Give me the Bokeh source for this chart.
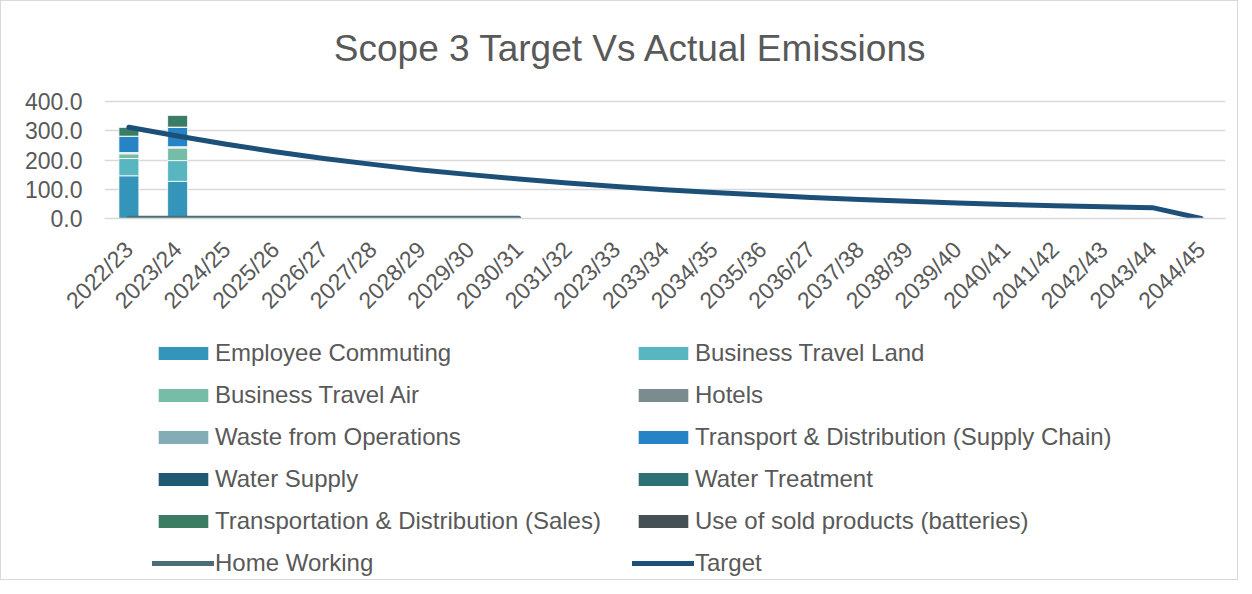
import math
from bokeh.plotting import figure
from bokeh.layouts import column
from bokeh.models import (FactorRange, Range1d, Legend, LegendItem, FixedTicker,
                          NumeralTickFormatter, ColumnDataSource, Label)
from bokeh.embed import file_html
from bokeh.resources import INLINE

# ---------------- data ----------------
categories = ["2022/23", "2023/24", "2024/25", "2025/26", "2026/27", "2027/28", "2028/29",
              "2029/30", "2030/31", "2031/32", "2023/33", "2033/34", "2034/35", "2035/36",
              "2036/27", "2037/38", "2038/39", "2039/40", "2040/41", "2041/42", "2042/43",
              "2043/44", "2044/45"]

actual_years = ["2022/23", "2023/24"]
employee_commuting = [146, 127]
business_travel_land = [59, 71]
business_travel_air = [16, 43]
hotels = [2, 2]
waste_from_operations = [2.5, 2.5]
td_supply_chain = [55, 66]
water_supply = [0.5, 0.5]
water_treatment = [0.5, 0.5]
td_sales = [31, 41]
use_of_sold_products = [0.3, 0.3]

home_working_years = ["2022/23", "2023/24", "2024/25", "2025/26", "2026/27", "2027/28",
                      "2028/29", "2029/30", "2030/31"]
home_working = [1, 1, 1, 1, 1, 1, 1, 1, 1]

target = [312, 282, 254, 228, 205, 185, 166, 150, 135, 121, 109, 98, 89, 80, 72, 65,
          59, 53, 48, 44, 40, 37, 0]

y_ticks = [0, 100, 200, 300, 400]

series_names = ["Employee Commuting", "Business Travel Land", "Business Travel Air", "Hotels",
                "Waste from Operations", "Transport & Distribution (Supply Chain)",
                "Water Supply", "Water Treatment", "Transportation & Distribution (Sales)",
                "Use of sold products (batteries)"]
series_values = [employee_commuting, business_travel_land, business_travel_air, hotels,
                 waste_from_operations, td_supply_chain, water_supply, water_treatment,
                 td_sales, use_of_sold_products]
series_colors = ["#3494BA", "#58B6C0", "#75BDA7", "#7A8C8E", "#84ACB6", "#2683C6",
                 "#1F5A72", "#2E7174", "#3B7C65", "#465155"]
home_color = "#4A6E78"
target_color = "#1C5079"

TITLE = "Scope 3 Target Vs Actual Emissions"
FONT = "Liberation Sans"
TXT = "#595959"
GRID = "#d9d9d9"

# layout (px)
W = 1236
H1, H2 = 330, 248
FRAME_L, FRAME_R, FRAME_T, FRAME_B = 103, 1224, 10, 217
Y400_PX = 100.0
upp = 400.0 / (FRAME_B - Y400_PX)
y_end = 400 + (Y400_PX - FRAME_T) * upp

# ---------------- main chart ----------------
p = figure(x_range=FactorRange(*categories), y_range=Range1d(0, y_end),
           width=W, height=H1, output_backend="svg", toolbar_location=None,
           min_border_left=FRAME_L, min_border_right=W - FRAME_R,
           min_border_top=FRAME_T, min_border_bottom=H1 - FRAME_B)
p.title.text = ""

data = {"year": actual_years}
keys = []
for i, vals in enumerate(series_values):
    k = f"s{i}"
    keys.append(k)
    data[k] = vals
src = ColumnDataSource(data)

p.vbar_stack(keys, x="year", width=0.41, fill_color=series_colors,
             line_color="white", line_width=0.8, source=src)
p.line(home_working_years, home_working, line_width=5, line_color=home_color,
       line_cap="round")
p.line(categories, target, line_width=5, line_color=target_color,
       line_cap="round", line_join="round")

title = Label(x=526.5, y=FRAME_B - 46.5, x_units="screen", y_units="screen",
              text=TITLE, text_font=FONT, text_font_size="37px", text_color=TXT,
              text_align="center", text_baseline="alphabetic")
p.add_layout(title)

p.xaxis.major_label_orientation = math.pi / 4
p.xaxis.major_label_text_font = FONT
p.xaxis.major_label_text_font_size = "23px"
p.xaxis.major_label_text_color = TXT
p.xaxis.axis_line_color = GRID
p.xaxis.axis_line_width = 1.5
p.xaxis.major_tick_line_color = None
p.xaxis.minor_tick_line_color = None
p.xaxis.major_tick_out = 0
p.xaxis.major_tick_in = 0
p.xaxis.major_label_standoff = 27

p.yaxis.ticker = FixedTicker(ticks=y_ticks)
p.yaxis.formatter = NumeralTickFormatter(format="0.0")
p.yaxis.major_label_text_font = FONT
p.yaxis.major_label_text_font_size = "23px"
p.yaxis.major_label_text_color = TXT
p.yaxis.axis_line_color = None
p.yaxis.major_tick_line_color = None
p.yaxis.minor_tick_line_color = None
p.yaxis.major_tick_out = 0
p.yaxis.major_tick_in = 0
p.yaxis.major_label_standoff = 22

p.xgrid.grid_line_color = None
p.ygrid.ticker = FixedTicker(ticks=y_ticks)
p.ygrid.grid_line_color = GRID
p.ygrid.grid_line_width = 1.5
p.outline_line_color = None

# ---------------- legend panel (proxy glyphs of zero size, only for the legend) ----------------
q = figure(x_range=Range1d(0, 1), y_range=Range1d(0, 1), width=W, height=H2,
           output_backend="svg", toolbar_location=None,
           x_axis_location=None, y_axis_location=None,
           min_border_left=0, min_border_right=0, min_border_top=0, min_border_bottom=0)
q.title.text = ""
q.grid.grid_line_color = None
q.outline_line_color = None

items = []
for name, c in zip(series_names, series_colors):
    r = q.vbar(x=[0], top=[0], bottom=[0], width=0, fill_color=c, line_color=None)
    items.append(LegendItem(label=name, renderers=[r]))
r_hw = q.line(x=[0], y=[0], line_width=5, line_color=home_color, line_cap="round")
r_tg = q.line(x=[0], y=[0], line_width=5, line_color=target_color, line_cap="round")
items.append(LegendItem(label="Home Working", renderers=[r_hw]))
items.append(LegendItem(label="Target", renderers=[r_tg]))

legend = Legend(items=items, location=(48, 2), orientation="horizontal", ncols=2,
                glyph_width=62, glyph_height=16, label_standoff=1, label_width=403,
                label_text_font_size="24px", label_text_color=TXT, label_text_font=FONT,
                spacing=14, padding=0, margin=0, border_line_color=None,
                background_fill_alpha=0)
q.add_layout(legend, "center")

layout = column(p, q, spacing=0)
layout.styles = {"border": "1px solid #d9d9d9"}

open("out.html", "w").write(file_html(layout, INLINE))
